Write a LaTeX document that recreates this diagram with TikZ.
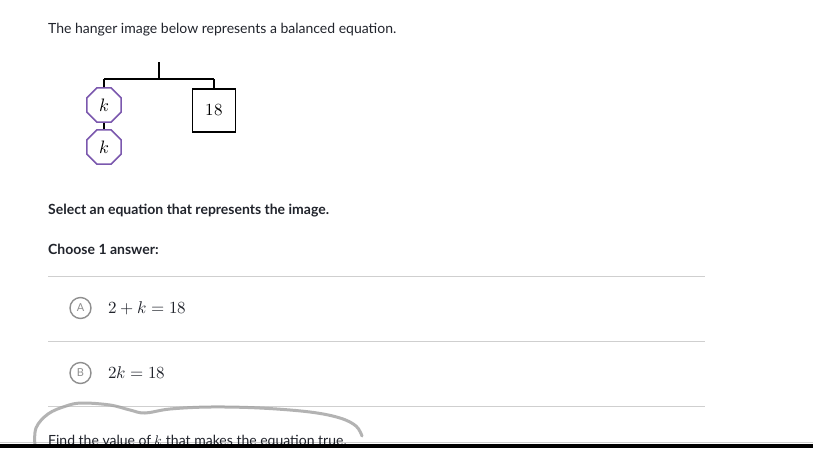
\documentclass[tikz,border=0pt]{standalone}
\usepackage{fontspec}
\usepackage{unicode-math}
\setmathfont{Latin Modern Math}
\setmainfont{Lato}
\newfontfamily\latobold{Lato}[UprightFont={* Bold}]
\usetikzlibrary{shapes.geometric}
\definecolor{txt}{HTML}{21242C}
\definecolor{rule}{HTML}{CFCFCF}
\definecolor{purp}{HTML}{7B58AE}
\definecolor{opt}{HTML}{8F8F8F}
\definecolor{scrib}{HTML}{A0A0A0}
\tikzset{
  body/.style={anchor=base west, inner sep=0pt, text=txt, font=\fontsize{14}{16}\selectfont},
  bodyb/.style={body, font=\fontsize{14}{16}\selectfont\latobold},
  octo/.style={draw=purp, line width=1.6pt, regular polygon, regular polygon sides=8, minimum size=37pt, inner sep=0pt, font=\fontsize{18}{18}\selectfont},
  sq/.style={draw=black, line width=1.4pt, minimum size=43pt, inner sep=0pt, font=\fontsize{17}{17}\selectfont},
  hang/.style={line width=1.6pt, black},
  sep/.style={draw=rule, line width=1pt},
  optc/.style={circle, draw=opt, line width=1.4pt, minimum size=21pt, inner sep=0pt, text=opt, font=\fontsize{11}{11}\selectfont},
  ans/.style={anchor=west, inner sep=0pt, text=txt, font=\fontsize{17}{17}\selectfont}
}
\begin{document}
\begin{tikzpicture}[x=1pt,y=-1pt]
\useasboundingbox (0,0) rectangle (813,448);
\fill[white] (0,0) rectangle (813,448);
\node[body] (t1) at (48,33) {The hanger image below represents a balanced equation.};
% hanger
\coordinate (top) at (159,62);
\coordinate (mid) at (159,79);
\coordinate (hl) at (104,79);
\coordinate (hr) at (214,79);
\node[octo] (k1) at (104,105) {$k$};
\node[octo] (k2) at (104,147) {$k$};
\node[sq] (s) at (214,110.5) {$18$};
\draw[hang] (top) -- (mid);
\draw[hang] (hl) -- (hr);
\draw[hang] (hl) -- (k1.north);
\draw[hang] (hr) -- (s.north);
\draw[hang] (k1.south) -- (k2.north);
\node[bodyb] (q) at (48,214) {Select an equation that represents the image.};
\node[bodyb] (c) at (48,254) {Choose 1 answer:};
\coordinate (l1a) at (48,276.5); \coordinate (l1b) at (705,276.5);
\coordinate (l2a) at (48,341.5); \coordinate (l2b) at (705,341.5);
\coordinate (l3a) at (48,406.5); \coordinate (l3b) at (705,406.5);
\draw[sep] (l1a) -- (l1b);
\draw[sep] (l2a) -- (l2b);
\draw[sep] (l3a) -- (l3b);
\node[optc] (oa) at (80.5,308) {A};
\node[ans] (aa) at (108,308) {$2+k=18$};
\node[optc] (ob) at (80.5,373) {B};
\node[ans] (ab) at (108,373) {$2k=18$};
\coordinate (g1) at (0,442.5); \coordinate (g2) at (813,442.5);
\draw[rule, line width=1pt] (g1) -- (g2);
\node[body] (f) at (48,445.5) {Find the value of $k$ that makes the equation true.};
\draw[scrib, line width=3pt, line cap=round, line join=round, opacity=0.8]
  plot[smooth, tension=0.6] coordinates {(35,446) (36,428) (48,414) (66,406) (82,403) (110,405) (130,410) (145,413) (170,409) (210,407) (260,408) (310,412) (340,418) (356,426) (362,436)};
\fill[black] (0,444) rectangle (813,448);
\end{tikzpicture}
\end{document}
